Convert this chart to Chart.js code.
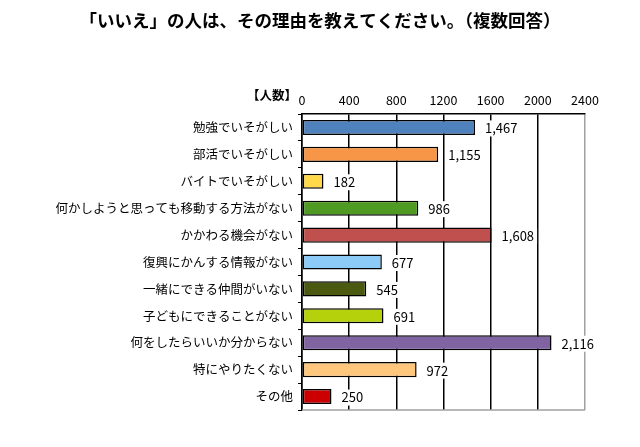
<!DOCTYPE html>
<html>
<head>
<meta charset="utf-8">
<script src="https://cdn.jsdelivr.net/npm/chart.js@4"></script>
<style>
  html, body { margin: 0; padding: 0; background: #fff; }
  #wrap { width: 640px; height: 447px; }
</style>
</head>
<body>
<div id="wrap"><canvas id="canvas_chart" width="640" height="447"></canvas></div>
<script>
const chartTitle = "「いいえ」の人は、その理由を教えてください。（複数回答）";
const reasons = [
  "勉強でいそがしい",
  "部活でいそがしい",
  "バイトでいそがしい",
  "何かしようと思っても移動する方法がない",
  "かかわる機会がない",
  "復興にかんする情報がない",
  "一緒にできる仲間がいない",
  "子どもにできることがない",
  "何をしたらいいか分からない",
  "特にやりたくない",
  "その他"
];
const counts = [1467, 1155, 182, 986, 1608, 677, 545, 691, 2116, 972, 250];
const barColors = ["#4F81BD", "#F79646", "#FFD94A", "#4E9A22", "#C0504D", "#8CCBF7",
                   "#4A5A10", "#B4D10C", "#8064A2", "#FFC77E", "#CC0000"];
const xTicks = [0, 400, 800, 1200, 1600, 2000, 2400];

const JP = "'Noto Sans CJK JP', 'Noto Sans', sans-serif";

// title, value labels with white box, 【人数】, bottom frame
const extras = {
  id: "extras",
  afterDatasetsDraw(chart) {
    const ctx = chart.ctx;
    const area = chart.chartArea;
    ctx.save();
    ctx.strokeStyle = "#A0A0A0";
    ctx.lineWidth = 1.5;
    ctx.beginPath();
    ctx.moveTo(area.left, area.bottom);
    ctx.lineTo(area.right, area.bottom);
    ctx.stroke();

    ctx.font = "13px " + JP;
    ctx.textBaseline = "middle";
    ctx.textAlign = "left";
    const meta = chart.getDatasetMeta(0);
    meta.data.forEach(function (bar, i) {
      const txt = counts[i].toLocaleString("en-US");
      const x = bar.x + 10;
      const y = bar.y + 1;
      const w = ctx.measureText(txt).width;
      ctx.fillStyle = "#fff";
      ctx.fillRect(x - 3, y - 8, w + 6, 16);
      ctx.fillStyle = "#000";
      ctx.fillText(txt, x, y);
    });

    ctx.font = "bold 12.5px " + JP;
    ctx.textAlign = "right";
    ctx.fillText("【人数】", 297, 95);

    ctx.font = "bold 17.5px " + JP;
    ctx.textAlign = "center";
    ctx.fillText(chartTitle, 320, 20);
    ctx.restore();
  }
};

const configChart = {
  type: "bar",
  data: {
    labels: reasons,
    datasets: [{
      data: counts,
      backgroundColor: barColors,
      borderColor: "#000",
      borderWidth: 1.5,
      borderSkipped: false,
      categoryPercentage: 1,
      barPercentage: 0.56
    }]
  },
  options: {
    indexAxis: "y",
    responsive: false,
    animation: false,
    layout: { padding: { left: 0, right: 55, top: 40, bottom: 37 } },
    plugins: {
      legend: { display: false },
      tooltip: { enabled: false },
      title: { display: false }
    },
    scales: {
      x: {
        position: "top",
        min: 0,
        max: 2400,
        afterBuildTicks: function (scale) {
          scale.ticks = xTicks.map(v => ({ value: v }));
        },
        afterFit: function (scale) { scale.height = 74; },
        ticks: {
          color: "#000",
          padding: 6,
          font: { family: JP, size: 12.5 },
          callback: v => String(v)
        },
        grid: {
          drawTicks: false,
          color: ctx => (ctx.tick && ctx.tick.value === 2400 ? "#A0A0A0" : "#000"),
          lineWidth: 1.5
        },
        border: { display: true, color: "#000", width: 1.5 }
      },
      y: {
        afterFit: function (scale) { scale.width = 302; },
        ticks: {
          color: "#000",
          padding: 5,
          font: { family: JP, size: 12.5 },
          autoSkip: false
        },
        grid: {
          offset: true,
          drawOnChartArea: false,
          tickLength: 4,
          color: "#000",
          lineWidth: 1
        },
        border: { display: true, color: "#000", width: 1.5 }
      }
    }
  },
  plugins: [extras]
};

const canvas_chart = new Chart(document.getElementById("canvas_chart"), configChart);
</script>
</body>
</html>
